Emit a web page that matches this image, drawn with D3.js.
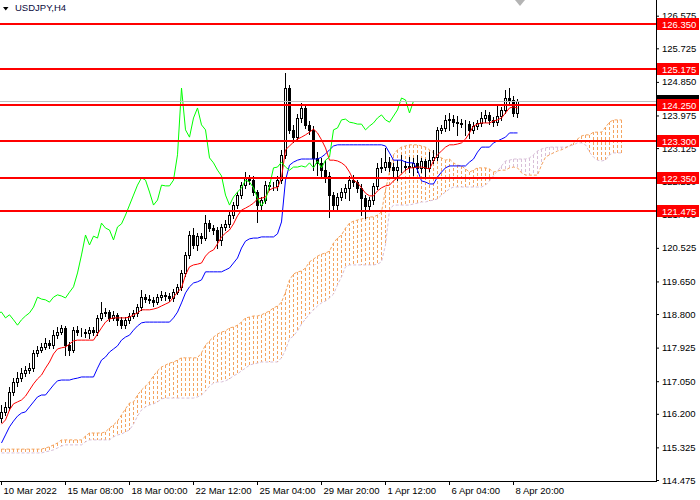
<!DOCTYPE html>
<html><head><meta charset="utf-8">
<script src="https://cdn.jsdelivr.net/npm/d3@7"></script>
<style>body{margin:0;background:#fff}svg{display:block}</style>
</head><body>
<svg id="c" width="700" height="500"></svg>
<script>
const symbol = "USDJPY,H4";
const openP = [116.09,116.25,116.38,116.77,117.03,117.13,117.26,117.34,117.39,117.79,
117.86,117.94,118.05,117.99,118.25,118.33,118.44,117.99,117.86,118.38,
118.33,118.33,118.31,118.38,118.33,118.70,118.83,118.85,118.70,118.78,
118.65,118.51,118.65,118.75,118.83,118.98,119.24,119.19,119.17,119.11,
119.24,119.30,119.27,119.22,119.37,119.51,119.87,120.34,120.86,120.60,
120.83,120.78,121.17,121.04,120.99,120.73,121.07,121.15,121.38,121.64,
121.90,122.16,122.35,122.29,121.98,121.64,121.77,122.16,122.14,122.14,
122.29,122.95,124.69,123.60,123.41,123.91,124.17,123.73,123.60,122.87,
122.74,122.55,122.40,121.90,121.64,121.85,121.98,122.09,122.29,122.24,
122.09,121.82,121.62,121.77,122.14,122.61,122.63,122.76,122.63,122.55,
122.63,122.63,122.66,122.63,122.74,122.61,122.79,122.61,122.81,122.89,
123.60,123.65,123.86,123.88,123.80,123.78,123.75,123.75,123.60,123.70,
123.78,123.91,123.99,123.86,123.80,123.96,124.12,124.43,124.38,124.04];
const highP = [116.43,116.51,116.90,117.13,117.29,117.39,117.45,117.52,117.86,117.97,
118.05,118.18,118.12,118.38,118.46,118.51,118.49,118.07,118.46,118.49,
118.44,118.41,118.46,118.46,118.78,119.11,118.96,118.91,118.88,118.83,
118.72,118.72,118.83,118.91,119.06,119.43,119.32,119.30,119.24,119.32,
119.40,119.37,119.35,119.45,119.58,119.95,120.42,120.96,121.04,120.91,
120.91,121.38,121.25,121.12,121.07,121.15,121.25,121.46,121.72,121.98,
122.24,122.50,122.42,122.40,122.03,121.85,122.27,122.24,122.24,122.40,
123.08,125.08,124.77,123.73,124.01,124.30,124.25,123.83,123.70,123.02,
122.87,122.81,122.50,121.98,121.95,122.09,122.19,122.40,122.42,122.29,
122.19,121.90,121.85,122.22,122.74,122.87,123.13,122.89,122.74,122.81,
122.95,122.79,122.89,122.87,122.95,122.87,122.84,123.02,123.08,123.67,
123.73,123.99,124.04,123.99,123.96,123.88,123.86,123.83,123.80,123.86,
124.07,124.12,124.07,123.94,124.27,124.20,124.64,124.69,124.48,124.40];
const lowP = [115.99,116.17,116.30,116.69,116.92,117.06,117.19,117.26,117.32,117.71,
117.81,117.89,117.92,117.92,118.18,118.28,117.73,117.73,117.81,118.25,
118.23,118.20,118.18,118.25,118.25,118.65,118.75,118.62,118.65,118.51,
118.44,118.44,118.57,118.70,118.75,118.91,119.11,119.09,119.01,119.06,
119.17,119.17,119.14,119.14,119.32,119.43,119.79,120.26,120.52,120.47,
120.65,120.73,120.96,120.89,120.52,120.60,120.99,121.07,121.30,121.56,
121.82,122.09,122.19,121.90,121.20,121.51,121.69,122.03,122.03,122.03,
122.22,122.87,123.52,123.28,123.34,123.80,123.65,123.49,122.55,122.42,
122.35,122.24,121.33,121.51,121.54,121.77,121.82,121.77,122.14,121.98,
121.38,121.30,121.51,121.67,122.06,122.50,122.55,122.53,122.40,122.29,
122.50,122.55,122.50,122.42,122.50,122.50,122.35,122.53,122.74,122.81,
123.52,123.57,123.60,123.70,123.47,123.67,123.47,123.39,123.52,123.62,
123.70,123.80,123.75,123.70,123.73,123.86,124.04,124.27,123.96,123.94];
const closeP = [116.25,116.38,116.77,117.03,117.13,117.26,117.34,117.39,117.79,117.86,
117.94,118.05,117.99,118.25,118.33,118.44,117.99,117.86,118.38,118.33,
118.33,118.31,118.38,118.33,118.70,118.83,118.85,118.70,118.78,118.65,
118.51,118.65,118.75,118.83,118.98,119.24,119.19,119.17,119.11,119.24,
119.30,119.27,119.22,119.37,119.51,119.87,120.34,120.86,120.60,120.83,
120.78,121.17,121.04,120.99,120.73,121.07,121.15,121.38,121.64,121.90,
122.16,122.35,122.29,121.98,121.64,121.77,122.16,122.14,122.14,122.29,
122.95,124.69,123.60,123.41,123.91,124.17,123.73,123.60,122.87,122.74,
122.55,122.40,121.90,121.64,121.85,121.98,122.09,122.29,122.24,122.09,
121.82,121.62,121.77,122.14,122.61,122.63,122.76,122.63,122.55,122.63,
122.63,122.66,122.63,122.74,122.61,122.79,122.61,122.81,122.89,123.60,
123.65,123.86,123.88,123.80,123.78,123.75,123.75,123.60,123.70,123.78,
123.91,123.99,123.86,123.80,123.96,124.12,124.43,124.38,124.04,124.35];
const tenkan = [115.93,116.04,116.30,116.46,116.51,116.56,116.66,116.82,116.98,117.11,
117.21,117.39,117.55,117.76,117.89,117.92,117.94,118.02,118.10,118.12,
118.12,118.12,118.12,118.12,118.28,118.44,118.59,118.67,118.70,118.70,
118.70,118.70,118.72,118.78,118.83,118.91,118.91,118.91,118.93,118.96,
119.01,119.06,119.11,119.24,119.37,119.48,119.82,120.03,120.08,120.10,
120.13,120.31,120.42,120.47,120.63,120.81,120.91,120.99,121.15,121.36,
121.51,121.56,121.62,121.69,121.80,121.82,121.85,122.03,122.09,122.09,
122.35,123.08,123.18,123.28,123.36,123.41,123.47,123.54,123.62,123.52,
123.34,123.13,122.81,122.81,122.79,122.74,122.66,122.50,122.29,122.22,
122.09,121.95,121.88,121.88,122.01,122.09,122.14,122.16,122.27,122.35,
122.45,122.55,122.61,122.61,122.63,122.63,122.61,122.58,122.79,122.95,
123.05,123.15,123.21,123.21,123.23,123.26,123.36,123.52,123.70,123.75,
123.78,123.78,123.78,123.83,123.86,123.91,124.04,124.17,124.20,124.17];
const kijun = [115.44,115.65,115.86,116.01,116.14,116.22,116.25,116.38,116.51,116.64,
116.69,116.69,116.82,116.95,117.06,117.08,117.08,117.08,117.11,117.13,
117.16,117.16,117.16,117.16,117.39,117.60,117.68,117.81,117.89,117.97,
118.12,118.20,118.25,118.38,118.49,118.57,118.59,118.59,118.59,118.59,
118.59,118.59,118.59,118.70,118.85,119.09,119.35,119.51,119.61,119.64,
119.69,119.90,119.90,119.90,119.90,119.90,119.95,120.00,120.13,120.26,
120.52,120.70,120.76,120.78,120.78,120.81,120.81,120.81,120.81,120.89,
121.20,122.29,122.68,122.76,122.81,122.84,122.84,122.84,122.84,122.84,
122.89,122.97,123.08,123.18,123.21,123.21,123.21,123.21,123.21,123.21,
123.21,123.21,123.21,123.21,123.21,123.21,123.18,123.00,122.81,122.81,
122.81,122.76,122.74,122.74,122.55,122.27,122.24,122.19,122.19,122.37,
122.50,122.61,122.66,122.66,122.66,122.66,122.66,122.76,122.84,123.02,
123.15,123.15,123.15,123.26,123.31,123.36,123.41,123.52,123.52,123.52];
const spanA = [115.28,115.28,115.28,115.28,115.28,115.28,115.28,115.28,115.28,115.28,
115.28,115.31,115.34,115.39,115.44,115.52,115.52,115.52,115.52,115.52,
115.52,115.62,115.70,115.70,115.70,115.70,115.73,115.83,115.91,116.01,
116.17,116.33,116.48,116.51,116.69,116.82,116.92,117.03,117.19,117.32,
117.42,117.47,117.52,117.55,117.60,117.66,117.66,117.66,117.66,117.66,
117.79,117.99,118.10,118.20,118.28,118.33,118.36,118.44,118.46,118.51,
118.59,118.70,118.72,118.75,118.75,118.78,118.83,118.88,118.96,119.01,
119.11,119.37,119.69,119.84,119.90,119.92,120.00,120.16,120.23,120.31,
120.36,120.39,120.44,120.65,120.78,120.86,121.04,121.17,121.22,121.25,
121.28,121.30,121.33,121.33,121.38,121.46,122.03,122.50,122.95,123.08,
123.15,123.18,123.21,123.21,123.21,123.18,123.15,123.08,123.00,122.92,
122.87,122.81,122.84,122.74,122.68,122.66,122.58,122.50,122.55,122.61,
122.61,122.61,122.58,122.50,122.53,122.55,122.55,122.61,122.63,122.61,
122.48,122.42,122.42,122.42,122.42,122.68,122.89,122.95,123.00,123.05,
123.08,123.13,123.18,123.26,123.36,123.44,123.47,123.47,123.54,123.54,
123.54,123.67,123.80,123.86,123.86,123.86];
const spanB = [115.18,115.18,115.18,115.18,115.18,115.18,115.18,115.18,115.18,115.18,
115.18,115.21,115.23,115.26,115.31,115.36,115.39,115.39,115.39,115.39,
115.39,115.47,115.52,115.52,115.52,115.52,115.52,115.52,115.60,115.65,
115.67,115.73,115.78,115.93,116.14,116.30,116.38,116.43,116.46,116.51,
116.59,116.61,116.61,116.61,116.61,116.61,116.61,116.61,116.61,116.64,
116.69,116.79,116.92,117.00,117.03,117.03,117.06,117.11,117.19,117.24,
117.32,117.39,117.47,117.50,117.52,117.55,117.55,117.55,117.55,117.55,
117.66,117.86,118.15,118.23,118.36,118.54,118.67,118.80,118.91,119.01,
119.09,119.14,119.22,119.32,119.56,119.77,120.03,120.08,120.08,120.08,
120.08,120.08,120.08,120.08,120.10,120.16,120.60,121.51,121.64,121.64,
121.64,121.64,121.64,121.67,121.69,121.72,121.72,121.75,121.77,121.80,
121.90,121.98,122.06,122.11,122.11,122.11,122.11,122.11,122.11,122.11,
122.11,122.16,122.27,122.40,122.53,122.66,122.79,122.81,122.84,122.84,
122.84,122.84,122.87,122.95,123.05,123.10,123.13,123.15,123.15,123.15,
123.15,123.15,123.18,123.21,123.26,123.26,123.21,123.02,122.89,122.81,
122.79,122.81,122.95,123.00,123.00,123.00];
const yTicks = [126.575,125.725,124.850,123.975,123.125,122.250,121.400,120.525,119.650,118.800,117.925,117.050,116.200,115.325,114.475];
const levels = [126.350,125.175,124.250,123.300,122.350,121.475];
const xTickIdx = [0,16,32,48,64,80,96,112,128];
const xTickLabels = ["10 Mar 2022","15 Mar 08:00","18 Mar 00:00","22 Mar 12:00","25 Mar 04:00","29 Mar 20:00","1 Apr 12:00","6 Apr 04:00","8 Apr 20:00"];
const chikouShift = 26;

const FONT = "'Liberation Sans', Arial, sans-serif";
const plotW = 656, plotH = 481;
const svg = d3.select("#c");
const x = d3.scaleLinear().domain([0, 164]).range([1, 657]);
const y = d3.scaleLinear().domain([114.475, 126.575]).range([480, 15.7]);
const cx = i => Math.round(x(i));
const py = v => Math.round(y(v));
const COL_UP = "rgb(244,164,96)", COL_DN = "rgb(216,191,216)";

svg.append("rect").attr("width",700).attr("height",500).attr("fill","#fff");
svg.append("defs").append("clipPath").attr("id","clip")
  .append("rect").attr("x",0).attr("y",0).attr("width",plotW).attr("height",plotH);
const g = svg.append("g").attr("clip-path","url(#clip)");

// Kumo hatch: dotted vertical strokes, one per bar, drawn as small filled dashes
const nCloud = Math.min(spanA.length, spanB.length);
const dashes = [];
d3.range(nCloud).forEach(i => {
  const top = py(Math.max(spanA[i], spanB[i])), bot = py(Math.min(spanA[i], spanB[i]));
  const col = spanA[i] >= spanB[i] ? COL_UP : COL_DN;
  for (let yy = top; yy < bot; yy += 5) dashes.push({xx: cx(i), yy, h: Math.min(3, bot - yy), col});
});
g.append("g").attr("class","kumo").attr("shape-rendering","crispEdges")
  .selectAll("rect").data(dashes).join("rect")
  .attr("x", d => d.xx).attr("y", d => d.yy).attr("width", 1).attr("height", d => d.h)
  .attr("fill", d => d.col);
const lineIdx = d3.line().x((d,i) => cx(i)+0.5).y(d => y(d));
g.append("path").attr("d", lineIdx(spanB)).attr("fill","none")
  .attr("stroke",COL_DN).attr("stroke-width",1).attr("stroke-dasharray","3 2");
g.append("path").attr("d", lineIdx(spanA)).attr("fill","none")
  .attr("stroke",COL_UP).attr("stroke-width",1).attr("stroke-dasharray","3 2");

// candles
const idx = d3.range(closeP.length);
const cg = g.append("g").attr("class","candles").attr("shape-rendering","crispEdges");
cg.selectAll("line").data(idx).join("line")
  .attr("x1", i => cx(i)+0.5).attr("x2", i => cx(i)+0.5)
  .attr("y1", i => py(highP[i])).attr("y2", i => py(lowP[i])+1)
  .attr("stroke","#000").attr("stroke-width",1);
cg.selectAll("rect").data(idx).join("rect")
  .attr("x", i => cx(i)-0.5).attr("width", 2)
  .attr("y", i => py(Math.max(openP[i], closeP[i]))+0.5)
  .attr("height", i => Math.max(0, py(Math.min(openP[i], closeP[i])) - py(Math.max(openP[i], closeP[i]))))
  .attr("fill", i => closeP[i] >= openP[i] ? "#fff" : "#000")
  .attr("stroke","#000").attr("stroke-width",1);

// Ichimoku lines
g.append("path").attr("d", lineIdx(kijun)).attr("fill","none").attr("stroke","#0000FF").attr("stroke-width",1);
g.append("path").attr("d", lineIdx(tenkan)).attr("fill","none").attr("stroke","#FF0000").attr("stroke-width",1);
const chikouLine = d3.line().x((d,i) => cx(i - chikouShift)+0.5).y(d => y(d));
g.append("path").attr("d", chikouLine(closeP)).attr("fill","none").attr("stroke","#00FF00").attr("stroke-width",1);

// Bid line
const bid = closeP[closeP.length-1];
g.append("line").attr("x1",0).attr("x2",plotW).attr("y1",py(bid)+0.5).attr("y2",py(bid)+0.5)
  .attr("stroke","#C0C0C0").attr("stroke-width",1);

// level lines
g.append("g").attr("class","levels").selectAll("line").data(levels).join("line")
  .attr("x1",0).attr("x2",plotW).attr("y1", d => py(d)).attr("y2", d => py(d))
  .attr("stroke","#FF0000").attr("stroke-width",2);

// axes
const yAxis = d3.axisRight(y).tickValues(yTicks).tickFormat(d3.format(".3f")).tickSize(3).tickSizeOuter(0).tickPadding(3);
const ya = svg.append("g").attr("transform","translate(656,0)").call(yAxis);
ya.select(".domain").remove();
ya.selectAll(".tick line").attr("stroke","#000");
ya.selectAll(".tick text").attr("font-family",FONT).attr("font-size","9.5px").attr("fill","#000");

const xAxis = d3.axisBottom(x).tickValues(xTickIdx).tickFormat((d,k) => xTickLabels[k]).tickSize(4).tickSizeOuter(0);
const xa = svg.append("g").attr("transform","translate(0,481)").call(xAxis);
xa.select(".domain").remove();
xa.selectAll(".tick line").attr("stroke","#000");
xa.selectAll(".tick text").attr("font-family",FONT).attr("font-size","9.5px").attr("fill","#000")
  .attr("text-anchor","start").attr("x",2).attr("y",6);

svg.append("line").attr("x1",656.5).attr("x2",656.5).attr("y1",0).attr("y2",482).attr("stroke","#000");
svg.append("line").attr("x1",0).attr("x2",657).attr("y1",481.5).attr("y2",481.5).attr("stroke","#000");

// bid label box (black, mostly covered), then level labels (red) on top
const lab = svg.append("g");
lab.append("rect").attr("x",657).attr("y",py(bid)-6).attr("width",42).attr("height",12).attr("fill","#000");
const lv = lab.selectAll("g.lv").data(levels).join("g").attr("class","lv");
lv.append("rect").attr("x",657).attr("y", d => py(d)-6).attr("width",42).attr("height",12).attr("fill","#FF0000");
lv.append("text").attr("x",662).attr("y", d => py(d)+3.5).attr("font-family",FONT).attr("font-size","9.5px")
  .attr("fill","#fff").text(d => d3.format(".3f")(d));

// title and markers
svg.append("path").attr("d","M3,7 L8.5,7 L5.75,10.5 Z").attr("fill","#000");
svg.append("text").attr("x",15).attr("y",11).attr("font-family",FONT).attr("font-size","9.5px")
  .attr("fill","#0a0a3c").text(symbol);
svg.append("path").attr("d","M515,0 L525,0 L520,6 Z").attr("fill","#b4b4b4");
</script>
</body></html>
